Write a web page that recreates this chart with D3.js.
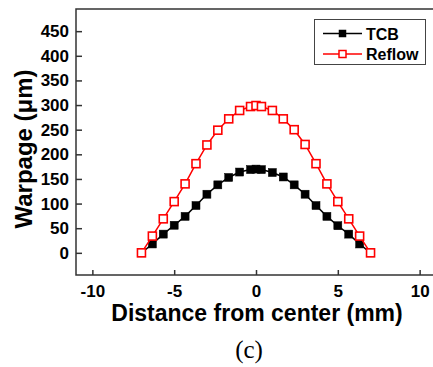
<!DOCTYPE html>
<html>
<head>
<meta charset="utf-8">
<script src="https://cdn.jsdelivr.net/npm/d3@7"></script>
<style>
  body { margin: 0; background: #fff; }
  svg { display: block; }
</style>
</head>
<body>
<svg id="chart" width="433" height="367"></svg>
<script>
// distance from center (mm)
var distance = [-7, -6.333, -5.667, -5, -4.333, -3.667, -3, -2.333, -1.667, -1, -0.333, 0,
                0.333, 1, 1.667, 2.333, 3, 3.667, 4.333, 5, 5.667, 6.333, 7];
// warpage (um)
var tcb =    [0, 18, 38, 56, 74, 96, 119, 138, 153, 164, 169, 170,
              169, 163, 154, 138, 119, 96, 74, 55, 38, 18, 0];
var reflow = [0, 34, 69, 104, 140, 181, 219, 249, 272, 289, 297, 299,
              297, 289, 272, 250, 220, 181, 140, 104, 69, 34, 0];

var xTicks = [-10, -5, 0, 5, 10];
var yTicks = [0, 50, 100, 150, 200, 250, 300, 350, 400, 450];

var svg = d3.select('#chart');
var mLeft = 76, mTop = 9, mRight = 436, mBottom = 275;

var x = d3.scaleLinear().domain([-11, 11]).range([mLeft, mRight]);
var y = d3.scaleLinear().domain([-45, 495]).range([mBottom, mTop]);

var font = '"Liberation Sans", Arial, sans-serif';

// frame
svg.append('rect')
   .attr('x', mLeft).attr('y', mTop)
   .attr('width', mRight - mLeft).attr('height', mBottom - mTop)
   .attr('fill', 'none').attr('stroke', '#333').attr('stroke-width', 1.5);

var xAxis = svg.append('g')
   .attr('transform', 'translate(0,' + mBottom + ')')
   .call(d3.axisBottom(x).tickValues(xTicks).tickSizeInner(-5).tickSizeOuter(0).tickPadding(10)
         .tickFormat(d3.format('d')));
var yAxis = svg.append('g')
   .attr('transform', 'translate(' + mLeft + ',0)')
   .call(d3.axisLeft(y).tickValues(yTicks).tickSizeInner(-6).tickSizeOuter(0).tickPadding(7));

[xAxis, yAxis].forEach(function(g) {
  g.select('.domain').remove();
  g.selectAll('line').attr('stroke', '#333').attr('stroke-width', 1.5);
  g.selectAll('text')
   .attr('fill', '#000')
   .style('font-family', font)
   .style('font-size', '17px')
   .style('font-weight', 'bold');
});
xAxis.selectAll('text').text(function(d) { return d < 0 ? '-' + Math.abs(d) : d; });

// axis titles
svg.append('text')
   .attr('x', 257).attr('y', 321)
   .attr('text-anchor', 'middle')
   .style('font-family', font).style('font-size', '23px').style('font-weight', 'bold')
   .text('Distance from center (mm)');

svg.append('text')
   .attr('transform', 'translate(31.5,149) rotate(-90)')
   .attr('text-anchor', 'middle')
   .style('font-family', font).style('font-size', '24px').style('font-weight', 'bold')
   .text('Warpage (μm)');

svg.append('text')
   .attr('x', 249).attr('y', 358)
   .attr('text-anchor', 'middle')
   .style('font-family', '"Liberation Serif", "Times New Roman", serif').style('font-size', '25px')
   .text('(c)');

var line = d3.line()
   .x(function(d) { return x(d[0]); })
   .y(function(d) { return y(d[1]); });

var ms = 8;
function drawSeries(vals, color, fill) {
  var pts = d3.zip(distance, vals);
  svg.append('path')
     .datum(pts)
     .attr('d', line)
     .attr('fill', 'none')
     .attr('stroke', color)
     .attr('stroke-width', 1.5);
  svg.append('g').selectAll('rect')
     .data(pts)
     .enter()
     .append('rect')
     .attr('x', function(d) { return x(d[0]) - ms / 2; })
     .attr('y', function(d) { return y(d[1]) - ms / 2; })
     .attr('width', ms).attr('height', ms)
     .attr('fill', fill)
     .attr('stroke', color)
     .attr('stroke-width', fill == 'white' ? 1.6 : 0.5);
}
drawSeries(tcb, 'black', 'black');
drawSeries(reflow, 'red', 'white');

// legend
var lg = svg.append('g');
lg.append('rect')
  .attr('x', 314.5).attr('y', 19.5).attr('width', 111).attr('height', 45)
  .attr('fill', 'white').attr('stroke', '#444').attr('stroke-width', 1);
var items = [{name: 'TCB', color: 'black', fill: 'black', yy: 33.5},
             {name: 'Reflow', color: 'red', fill: 'white', yy: 54}];
items.forEach(function(it) {
  lg.append('line')
    .attr('x1', 323).attr('x2', 362).attr('y1', it.yy).attr('y2', it.yy)
    .attr('stroke', it.color).attr('stroke-width', 1.5);
  lg.append('rect')
    .attr('x', 342.5 - 3.5).attr('y', it.yy - 3.5).attr('width', 7).attr('height', 7)
    .attr('fill', it.fill).attr('stroke', it.color).attr('stroke-width', it.fill == 'white' ? 1.5 : 0.5);
  lg.append('text')
    .attr('x', 366).attr('y', it.yy + 6)
    .style('font-family', font).style('font-size', '16px').style('font-weight', 'bold')
    .text(it.name);
});
</script>
</body>
</html>
